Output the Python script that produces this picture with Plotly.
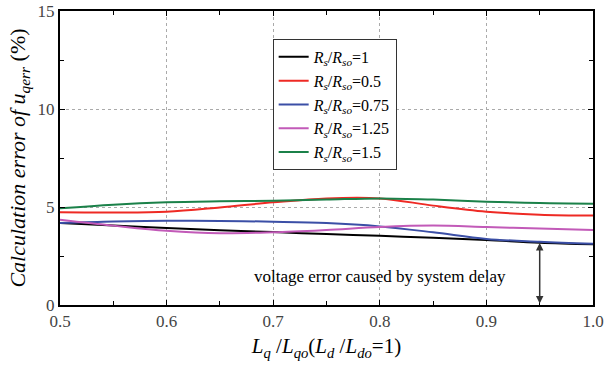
import plotly.graph_objects as go

x = [0.5, 0.55, 0.6, 0.65, 0.7, 0.75, 0.8, 0.85, 0.9, 0.95, 1.0]
r1 = [4.18, 4.05, 3.93, 3.82, 3.72, 3.62, 3.53, 3.43, 3.32, 3.18, 3.10]
r05 = [4.73, 4.72, 4.76, 4.98, 5.24, 5.44, 5.44, 5.07, 4.76, 4.61, 4.56]
r075 = [4.18, 4.26, 4.30, 4.29, 4.25, 4.18, 4.01, 3.71, 3.37, 3.23, 3.13]
r125 = [4.35, 4.05, 3.79, 3.66, 3.71, 3.83, 3.98, 4.05, 3.98, 3.90, 3.83]
r15 = [4.93, 5.12, 5.24, 5.29, 5.32, 5.38, 5.44, 5.38, 5.27, 5.20, 5.17]

names = ["1", "0.5", "0.75", "1.25", "1.5"]
series = [r1, r05, r075, r125, r15]
colors = ["#000000", "#ee2a24", "#3b4fa6", "#c25ab8", "#1b8149"]

arrow_x = 0.95
arrow_top = 3.16
note_text = "voltage error caused by system delay"

FONT = "Liberation Serif"

fig = go.Figure()
for n, s, c in zip(names, series, colors):
    fig.add_trace(go.Scatter(
        x=x, y=s, mode="lines", line=dict(color=c, width=2, shape="spline"),
        name="<i>R<sub>s</sub></i>/<i>R<sub>so</sub></i>=" + n))

fig.add_annotation(x=arrow_x, y=arrow_top, ax=arrow_x, ay=0, xref="x", yref="y",
                   axref="x", ayref="y", showarrow=True, arrowhead=2, arrowside="end+start",
                   arrowsize=1, arrowwidth=1.5, arrowcolor="#333333", text="")
fig.add_annotation(x=0.80, y=1.45, xref="x", yref="y", text=note_text, showarrow=False,
                   font=dict(family=FONT, size=17, color="#000"))

axis_common = dict(showline=True, linecolor="#000", linewidth=2, mirror="allticks",
                   ticks="inside", ticklen=5, tickcolor="#000", automargin=False,
                   showgrid=True, gridcolor="#aaaaaa", griddash="dot", gridwidth=1,
                   zeroline=False, tickfont=dict(family=FONT, size=17, color="#444"))

fig.update_xaxes(range=[0.5, 1.0], tickvals=[0.5, 0.6, 0.7, 0.8, 0.9, 1.0],
                 ticktext=["0.5", "0.6", "0.7", "0.8", "0.9", "1.0"],
                 minor=dict(tickvals=[0.55, 0.65, 0.75, 0.85, 0.95], ticks="inside", ticklen=4, tickcolor="#000"),
                 title=dict(text="<i>L<sub>q</sub></i> /<i>L<sub>qo</sub></i>(<i>L<sub>d</sub></i> /<i>L<sub>do</sub></i>=1)",
                            font=dict(family=FONT, size=21, color="#000"), standoff=8),
                 **axis_common)
fig.update_yaxes(range=[0, 15], tickvals=[0, 5, 10, 15],
                 minor=dict(tickvals=[2.5, 7.5, 12.5], ticks="inside", ticklen=4, tickcolor="#000"),
                 title=dict(text="<i>Calculation error of u<sub>qerr</sub></i> (%)",
                            font=dict(family=FONT, size=22, color="#000"), standoff=6),
                 **axis_common)

fig.update_layout(
    width=606, height=373, margin=dict(l=60, r=13, t=11, b=68),
    paper_bgcolor="white", plot_bgcolor="white",
    font=dict(family=FONT),
    legend=dict(x=0.399, y=0.905, xanchor="left", yanchor="top",
                bordercolor="#333", borderwidth=1, bgcolor="white",
                font=dict(family=FONT, size=16, color="#000"),
                itemwidth=30, tracegroupgap=0),
    showlegend=True,
)

fig.write_html("out.html")
